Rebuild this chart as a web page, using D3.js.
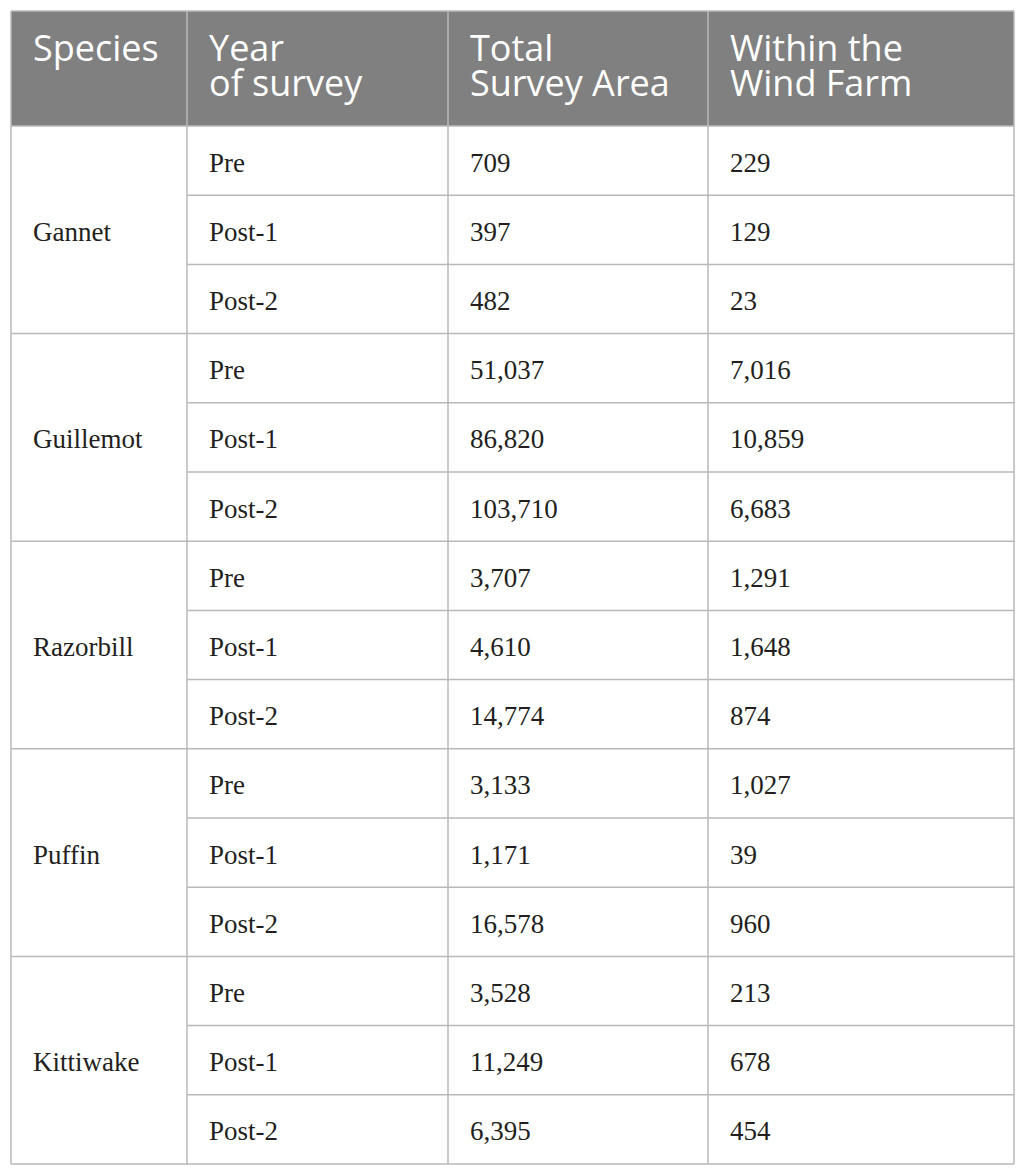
<!DOCTYPE html>
<html>
<head>
<meta charset="utf-8">
<script src="https://cdn.jsdelivr.net/npm/d3@7"></script>
<style>
  html, body { margin: 0; padding: 0; background: #fff; }
  .head { font-family: "Open Sans", sans-serif; font-size: 36px; fill: #fff; }
  .cell { font-family: "Liberation Serif", "DejaVu Serif", serif; font-size: 27px; fill: #231f20; }
</style>
</head>
<body>
<svg id="chart"></svg>
<script>
// table content
const headers = [['Species'], ['Year', 'of survey'], ['Total', 'Survey Area'], ['Within the', 'Wind Farm']];
const species = ['Gannet', 'Guillemot', 'Razorbill', 'Puffin', 'Kittiwake'];
const years = ['Pre', 'Post-1', 'Post-2'];
const totalArea = [
  709, 397, 482,
  51037, 86820, 103710,
  3707, 4610, 14774,
  3133, 1171, 16578,
  3528, 11249, 6395,
];
const withinFarm = [
  229, 129, 23,
  7016, 10859, 6683,
  1291, 1648, 874,
  1027, 39, 960,
  213, 678, 454,
];

const width = 1025;
const height = 1176;
const tLeft = 11, tRight = 1014, tTop = 11, headBottom = 126, tBottom = 1164;
const colEdges = [tLeft, 187, 448, 708, tRight];
const pad = 22;
const lineColor = '#b9b9b9';

const fmt = d3.format(',');

const rows = totalArea.map((t, i) => ({
  i,
  species: species[Math.floor(i / years.length)],
  year: years[i % years.length],
  total: t,
  within: withinFarm[i],
}));

const svg = d3.select('#chart')
  .attr('width', width)
  .attr('height', height);

const y = d3.scaleBand()
  .domain(d3.range(rows.length))
  .range([headBottom, tBottom]);

const col = d3.scaleOrdinal()
  .domain(d3.range(4))
  .range(colEdges.slice(0, 4));

// header
svg.append('rect')
  .attr('x', tLeft).attr('y', tTop)
  .attr('width', tRight - tLeft).attr('height', headBottom - tTop)
  .attr('fill', '#808080');

headers.forEach((lines, c) => {
  const t = svg.append('text')
    .attr('class', 'head')
    .attr('x', col(c) + pad)
    .attr('y', 61);
  lines.forEach((l, k) => {
    t.append('tspan')
      .attr('x', col(c) + pad)
      .attr('dy', k === 0 ? 0 : 35)
      .text(l);
  });
});

// row lines (species column only gets a line between groups)
const grid = svg.append('g').attr('stroke', lineColor).attr('stroke-width', 1.5);
d3.range(1, rows.length).forEach(i => {
  const grouped = i % years.length === 0;
  grid.append('line')
    .attr('x1', grouped ? tLeft : colEdges[1])
    .attr('x2', tRight)
    .attr('y1', y(i)).attr('y2', y(i));
});
[tTop, headBottom, tBottom].forEach(yy => {
  grid.append('line')
    .attr('x1', tLeft).attr('x2', tRight)
    .attr('y1', yy).attr('y2', yy);
});

// column lines
colEdges.forEach(x => {
  grid.append('line')
    .attr('x1', x).attr('x2', x)
    .attr('y1', tTop).attr('y2', tBottom);
});

// body cells
const base = y.bandwidth() / 2 + 11;
const cells = svg.append('g');

cells.selectAll('.year')
  .data(rows).enter().append('text')
  .attr('class', 'cell')
  .attr('x', col(1) + pad)
  .attr('y', d => y(d.i) + base)
  .text(d => d.year);

cells.selectAll('.total')
  .data(rows).enter().append('text')
  .attr('class', 'cell')
  .attr('x', col(2) + pad)
  .attr('y', d => y(d.i) + base)
  .text(d => fmt(d.total));

cells.selectAll('.within')
  .data(rows).enter().append('text')
  .attr('class', 'cell')
  .attr('x', col(3) + pad)
  .attr('y', d => y(d.i) + base)
  .text(d => fmt(d.within));

cells.selectAll('.species')
  .data(species).enter().append('text')
  .attr('class', 'cell')
  .attr('x', col(0) + pad)
  .attr('y', (d, i) => y(i * years.length + 1) + base)
  .text(d => d);
</script>
</body>
</html>
